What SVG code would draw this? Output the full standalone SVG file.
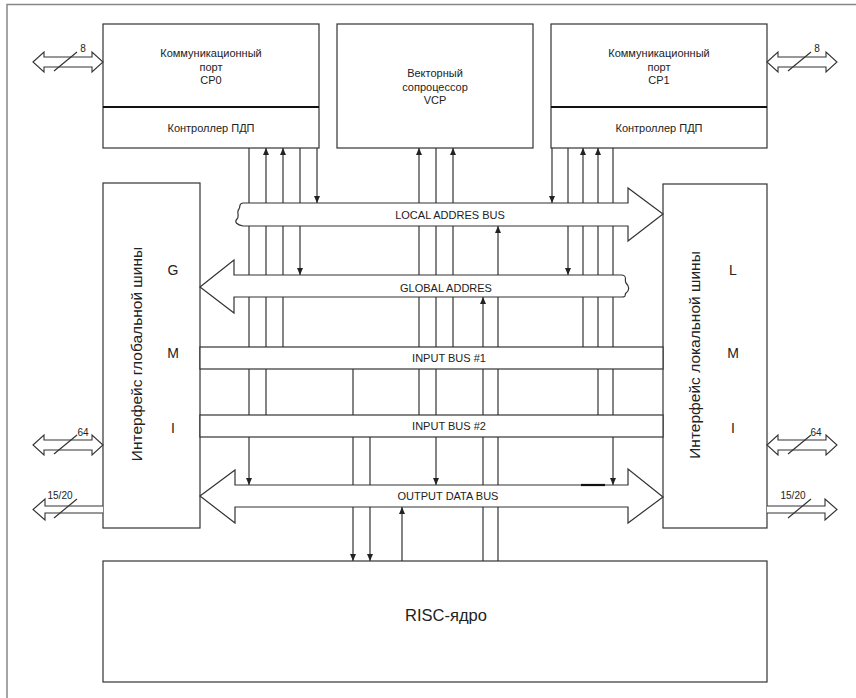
<svg xmlns="http://www.w3.org/2000/svg" width="856" height="698" viewBox="0 0 856 698">
<style>
text{font-family:"Liberation Sans",Arial,sans-serif;fill:#222}
.box{fill:#fff;stroke:#333;stroke-width:1.2}
.bus{fill:#fff;stroke:#333;stroke-width:1.2}
.ln{stroke:#333;stroke-width:1.2;fill:none}
.t11{font-size:11px}
.lbl{font-size:11px}
.big{font-size:14px}
.port{fill:#fff;stroke:#333;stroke-width:1.1}
</style>
<defs>
<marker id="ah" markerUnits="userSpaceOnUse" markerWidth="8" markerHeight="7" refX="7" refY="3" orient="auto">
<path d="M0,0 L7,3 L0,6 Z" fill="#222"/>
</marker>
</defs>
<rect width="856" height="698" fill="#fff"/>
<g id="frame"><path d="M7,698 L7,4.5 L856,4.5" fill="none" stroke="#888" stroke-width="1.5"/></g>

<g id="connectors" class="ln">
<line x1="249" y1="148" x2="249" y2="485" marker-end="url(#ah)"/>
<line x1="266" y1="415" x2="266" y2="148" marker-end="url(#ah)"/>
<line x1="283" y1="347" x2="283" y2="148" marker-end="url(#ah)"/>
<line x1="300" y1="148" x2="300" y2="275" marker-end="url(#ah)"/>
<line x1="317" y1="148" x2="317" y2="203" marker-end="url(#ah)"/>
<line x1="419" y1="415" x2="419" y2="148" marker-end="url(#ah)"/>
<line x1="436" y1="148" x2="436" y2="485" marker-end="url(#ah)"/>
<line x1="453" y1="347" x2="453" y2="148" marker-end="url(#ah)"/>
<line x1="552" y1="148" x2="552" y2="203" marker-end="url(#ah)"/>
<line x1="568" y1="148" x2="568" y2="275" marker-end="url(#ah)"/>
<line x1="583" y1="347" x2="583" y2="148" marker-end="url(#ah)"/>
<line x1="598" y1="415" x2="598" y2="148" marker-end="url(#ah)"/>
<line x1="613" y1="148" x2="613" y2="485" marker-end="url(#ah)"/>
<line x1="353" y1="369" x2="353" y2="561" marker-end="url(#ah)"/>
<line x1="370" y1="437" x2="370" y2="561" marker-end="url(#ah)"/>
<line x1="402" y1="561" x2="402" y2="507" marker-end="url(#ah)"/>
<line x1="483" y1="561" x2="483" y2="297" marker-end="url(#ah)"/>
<line x1="498" y1="561" x2="498" y2="226" marker-end="url(#ah)"/>
</g>

<g id="cp0">
<rect class="box" x="103" y="24" width="216" height="124"/>
<line x1="103" y1="107" x2="319" y2="107" stroke="#111" stroke-width="2.2"/>
<text class="t11" x="211" y="57" text-anchor="middle">Коммуникационный</text>
<text class="t11" x="211" y="71" text-anchor="middle">порт</text>
<text class="t11" x="211" y="84" text-anchor="middle">CP0</text>
<text class="t11" x="211" y="132" text-anchor="middle">Контроллер ПДП</text>
</g>

<g id="vcp">
<rect class="box" x="337" y="24" width="196" height="124"/>
<text class="t11" x="435" y="77" text-anchor="middle">Векторный</text>
<text class="t11" x="435" y="91" text-anchor="middle">сопроцессор</text>
<text class="t11" x="435" y="104" text-anchor="middle">VCP</text>
</g>

<g id="cp1">
<rect class="box" x="551" y="24" width="216" height="124"/>
<line x1="551" y1="107" x2="767" y2="107" stroke="#111" stroke-width="2.2"/>
<text class="t11" x="659" y="57" text-anchor="middle">Коммуникационный</text>
<text class="t11" x="659" y="71" text-anchor="middle">порт</text>
<text class="t11" x="659" y="84" text-anchor="middle">CP1</text>
<text class="t11" x="659" y="132" text-anchor="middle">Контроллер ПДП</text>
</g>

<g id="gmi">
<rect class="box" x="103" y="183" width="97" height="345"/>
<text font-size="15.5" transform="translate(142,354) rotate(-90)" text-anchor="middle">Интерфейс глобальной шины</text>
<text class="big" x="173" y="275" text-anchor="middle">G</text>
<text class="big" x="173" y="358" text-anchor="middle">M</text>
<text class="big" x="173" y="433" text-anchor="middle">I</text>
</g>

<g id="lmi">
<rect class="box" x="663" y="184" width="104" height="344"/>
<text font-size="15.5" transform="translate(700,355) rotate(-90)" text-anchor="middle">Интерфейс локальной шины</text>
<text class="big" x="733" y="275" text-anchor="middle">L</text>
<text class="big" x="733" y="358" text-anchor="middle">M</text>
<text class="big" x="733" y="433" text-anchor="middle">I</text>
</g>

<g id="local-bus">
<path class="bus" d="M243,203 L628,203 L628,188 L663,214 L628,241 L628,226 L243,226 C237,225 234,222 237,219 C240,216 236,212 239,209 C241,206 238,204 243,203 Z"/>
<text class="lbl" x="450" y="219" text-anchor="middle">LOCAL ADDRES BUS</text>
</g>

<g id="global-bus">
<path class="bus" d="M200,287 L234,260 L234,275 L622,275 C628,276 624,280 626,283 C629,286 630,290 626,293 C624,295 627,297 622,297 L234,297 L234,313 Z"/>
<text class="lbl" x="446" y="292" text-anchor="middle">GLOBAL ADDRES</text>
</g>

<g id="input-bus-1">
<rect class="bus" x="200" y="347" width="463" height="22"/>
<text class="lbl" x="449" y="362" text-anchor="middle">INPUT BUS #1</text>
</g>

<g id="input-bus-2">
<rect class="bus" x="200" y="415" width="463" height="22"/>
<text class="lbl" x="449" y="430" text-anchor="middle">INPUT BUS #2</text>
</g>

<g id="output-bus">
<path class="bus" d="M200,496 L235,470 L235,485 L628,485 L628,469 L663,497 L628,523 L628,507 L235,507 L235,523 Z"/>
<line x1="581" y1="485" x2="605" y2="485" stroke="#111" stroke-width="2.2"/>
<text class="lbl" x="448" y="500" text-anchor="middle">OUTPUT DATA BUS</text>
</g>

<g id="risc">
<rect class="box" x="103" y="561" width="664" height="121"/>
<text x="446" y="621" font-size="16.5" text-anchor="middle">RISC-ядро</text>
</g>

<g id="port-cp0">
<path class="port" d="M33,62 L44,52 L44,57 L92,57 L92,52 L103,62 L92,72 L92,67 L44,67 L44,72 Z"/>
<line class="ln" x1="54" y1="71" x2="77" y2="52"/>
<text x="83" y="52" font-size="10" text-anchor="middle">8</text>
</g>
<g id="port-cp1">
<path class="port" d="M767,62 L778,52 L778,57 L826,57 L826,52 L837,62 L826,72 L826,67 L778,67 L778,72 Z"/>
<line class="ln" x1="788" y1="71" x2="811" y2="52"/>
<text x="817" y="52" font-size="10" text-anchor="middle">8</text>
</g>
<g id="port-g64">
<path class="port" d="M33,445 L44,435 L44,440 L92,440 L92,435 L103,445 L92,455 L92,450 L44,450 L44,455 Z"/>
<line class="ln" x1="54" y1="454" x2="77" y2="435"/>
<text x="83" y="436" font-size="10" text-anchor="middle">64</text>
</g>
<g id="port-g1520">
<path class="port" d="M103,506 L45,506 L45,499 L33,509.5 L45,520 L45,513 L103,513"/>
<line class="ln" x1="54" y1="518" x2="77" y2="499"/>
<text x="60" y="499" font-size="10" text-anchor="middle">15/20</text>
</g>
<g id="port-l64">
<path class="port" d="M767,445 L778,435 L778,440 L826,440 L826,435 L837,445 L826,455 L826,450 L778,450 L778,455 Z"/>
<line class="ln" x1="788" y1="454" x2="811" y2="435"/>
<text x="816" y="436" font-size="10" text-anchor="middle">64</text>
</g>
<g id="port-l1520">
<path class="port" d="M767,506 L825,506 L825,499 L837,509.5 L825,520 L825,513 L767,513"/>
<line class="ln" x1="788" y1="518" x2="811" y2="499"/>
<text x="793" y="499" font-size="10" text-anchor="middle">15/20</text>
</g>
</svg>
